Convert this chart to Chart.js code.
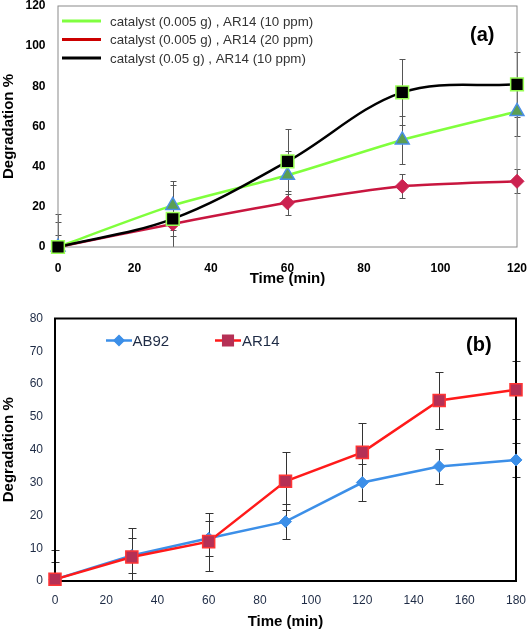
<!DOCTYPE html>
<html><head><meta charset="utf-8">
<script src="https://cdn.jsdelivr.net/npm/chart.js@4.4.1/dist/chart.umd.min.js"></script>
<style>
html,body{margin:0;padding:0;background:#fff;}
canvas{position:absolute;left:0;}
</style>
</head><body>
<canvas id="ca" width="529" height="300" style="top:0"></canvas>
<canvas id="cb" width="529" height="329" style="top:300px"></canvas>
<script>
// ---------- Panel (a) data ----------
const timeA = [0, 30, 60, 90, 120];
const greenA = [0, 20.7, 35.7, 53.3, 67.5];
const redA = [0, 11.5, 22, 30.2, 32.7];
const blackA = [0, 14, 42.6, 77, 81];
const greenErrA = [12.3, 12, 12, 12, 12];
const redErrA = [6, 6, 6, 6, 6];
const blackErrA = [16.5, 17, 16, 16.4, 16.2];
const labelsA = ['catalyst (0.005 g) , AR14 (10 ppm)', 'catalyst (0.005 g) , AR14 (20 ppm)', 'catalyst (0.05 g) , AR14 (10 ppm)'];
const xTicksA = [0, 120, 20];
const yTicksA = [0, 120, 20];

// ---------- Panel (b) data ----------
const timeB = [0, 30, 60, 90, 120, 150, 180];
const ab92 = [0.5, 7.8, 13, 18.1, 30, 34.9, 36.9];
const ar14 = [0.5, 7.3, 12, 30.4, 39.2, 55, 58.3];
const ab92Err = [5.3, 5.3, 5.3, 5.3, 5.6, 5.3, 5.3];
const ar14Err = [8.8, 8.8, 8.8, 8.8, 8.9, 8.8, 8.8];
const labelsB = ['AB92', 'AR14'];
const xTicksB = [0, 180, 20];
const yTicksB = [0, 80, 10];

const FF = '"Liberation Sans", Arial, sans-serif';
const pts = (xs, ys) => xs.map((x, i) => ({x, y: ys[i]}));

function drawMarker(ctx, style, x, y, r, fill, stroke, bw) {
  ctx.save();
  ctx.fillStyle = fill; ctx.strokeStyle = stroke; ctx.lineWidth = bw;
  ctx.beginPath();
  if (style === 'rectRot') {
    ctx.moveTo(x, y - r); ctx.lineTo(x + r, y); ctx.lineTo(x, y + r); ctx.lineTo(x - r, y); ctx.closePath();
  } else if (style === 'rect') {
    const s = r * Math.SQRT1_2; ctx.rect(x - s, y - s, 2 * s, 2 * s);
  }
  ctx.fill(); ctx.stroke();
  ctx.restore();
}

const decor = {
  id: 'decor',
  beforeDatasetsDraw(chart, args, o) {
    const {ctx, chartArea: a, scales: {x, y}} = chart;
    ctx.save();
    ctx.beginPath(); ctx.rect(0, a.top - 1, chart.width, a.bottom - a.top + 1); ctx.clip();
    ctx.strokeStyle = o.errColor; ctx.lineWidth = 1;
    chart.data.datasets.forEach(ds => {
      if (!ds.errors) return;
      ds.data.forEach((p, i) => {
        const e = ds.errors[i];
        const px = Math.round(x.getPixelForValue(p.x)) + 0.5;
        const hi = Math.round(y.getPixelForValue(p.y + e)) + 0.5;
        const lo = Math.round(y.getPixelForValue(p.y - e)) + 0.5;
        ctx.beginPath();
        ctx.moveTo(px, hi); ctx.lineTo(px, lo);
        ctx.moveTo(px - o.cap, hi); ctx.lineTo(px + o.cap, hi);
        ctx.moveTo(px - o.cap, lo); ctx.lineTo(px + o.cap, lo);
        ctx.stroke();
      });
    });
    ctx.restore();
    ctx.save();
    ctx.strokeStyle = o.frameColor; ctx.lineWidth = o.frameWidth;
    ctx.strokeRect(a.left, a.top, a.right - a.left, a.bottom - a.top);
    ctx.restore();
  },
  afterDraw(chart, args, o) {
    const ctx = chart.ctx;
    ctx.save();
    // panel label
    ctx.font = 'bold 20px ' + FF; ctx.fillStyle = '#000';
    ctx.textBaseline = 'middle'; ctx.textAlign = 'left';
    ctx.fillText(o.panel.text, o.panel.x, o.panel.y);
    // legend
    ctx.font = o.legend.font; ctx.fillStyle = o.legend.color;
    o.legend.items.forEach(it => {
      ctx.strokeStyle = it.line; ctx.lineWidth = it.lw;
      ctx.beginPath(); ctx.moveTo(it.x0, it.y); ctx.lineTo(it.x1, it.y); ctx.stroke();
      if (it.marker) drawMarker(ctx, it.marker, (it.x0 + it.x1) / 2, it.y, it.r, it.fill, it.stroke, 1.5);
      ctx.fillStyle = o.legend.color;
      ctx.fillText(it.text, it.tx, it.y + 1);
    });
    ctx.restore();
  }
};

function axisCfg(t, opts) {
  return Object.assign({
    type: 'linear', min: t[0], max: t[1],
    grid: {display: false, drawTicks: false},
    border: {display: false},
  }, opts);
}

// ---------- Chart (a) ----------
new Chart(document.getElementById('ca'), {
  type: 'line',
  data: {
    datasets: [
      {label: labelsA[0], data: pts(timeA, greenA), errors: greenErrA, borderColor: '#80ff3c', borderWidth: 2.5,
       tension: 0.2, pointStyle: 'triangle', pointRadius: 8, pointBackgroundColor: '#5b9e52',
       pointBorderColor: '#4a8fe6', pointBorderWidth: 1.5, clip: false, order: 3},
      {label: labelsA[1], data: pts(timeA, redA), errors: redErrA, borderColor: '#c8163f', borderWidth: 2.5,
       tension: 0.2, pointStyle: 'rectRot', pointRadius: 7, pointBackgroundColor: '#cc2250',
       pointBorderColor: '#cc2250', pointBorderWidth: 1, clip: false, order: 2},
      {label: labelsA[2], data: pts(timeA, blackA), errors: blackErrA, borderColor: '#000', borderWidth: 2.5,
       tension: 0.35, pointStyle: 'rect', pointRadius: 9, pointBackgroundColor: '#000',
       pointBorderColor: '#99ff55', pointBorderWidth: 1.5, clip: false, order: 1}
    ]
  },
  options: {
    responsive: false, animation: false, devicePixelRatio: 1,
    layout: {autoPadding: false, padding: {left: 0, top: 6, right: 12, bottom: 0}},
    plugins: {
      legend: {display: false}, tooltip: {enabled: false},
      decor: {
        errColor: '#555', cap: 3, frameColor: '#8a8a8a', frameWidth: 1,
        panel: {text: '(a)', x: 470, y: 35},
        legend: {font: '13.3px ' + FF, color: '#333', items: [
          {text: labelsA[0], line: '#80ff40', lw: 3, x0: 62, x1: 101, y: 21, tx: 110},
          {text: labelsA[1], line: '#cc0000', lw: 3, x0: 62, x1: 101, y: 39.5, tx: 110},
          {text: labelsA[2], line: '#000000', lw: 3, x0: 62, x1: 101, y: 58, tx: 110}
        ]}
      }
    },
    scales: {
      x: axisCfg(xTicksA, {
        ticks: {stepSize: xTicksA[2], color: '#000', padding: 14, maxRotation: 0, font: {family: FF, size: 12, weight: 'bold'}},
        title: {display: true, text: 'Time (min)', color: '#000', font: {family: FF, size: 15, weight: 'bold'}, padding: {top: 0, bottom: 12.5}},
        afterFit(s) { s.height = 53; s.paddingLeft = 0; s.paddingRight = 0; }
      }),
      y: axisCfg(yTicksA, {
        ticks: {stepSize: yTicksA[2], color: '#000', padding: 12.5, font: {family: FF, size: 12, weight: 'bold', lineHeight: 1}},
        title: {display: true, text: 'Degradation %', color: '#000', font: {family: FF, size: 15, weight: 'bold'}, padding: {top: 0, bottom: 0}},
        afterFit(s) { s.width = 58; s.paddingTop = 0; s.paddingBottom = 0; }
      })
    }
  },
  plugins: [decor]
});

// ---------- Chart (b) ----------
new Chart(document.getElementById('cb'), {
  type: 'line',
  data: {
    datasets: [
      {label: labelsB[0], data: pts(timeB, ab92), errors: ab92Err, borderColor: '#3c8fe8', borderWidth: 2.5,
       tension: 0, pointStyle: 'rectRot', pointRadius: 6, pointBackgroundColor: '#3c8fe8',
       pointBorderColor: '#3c8fe8', pointBorderWidth: 1, clip: false, order: 2},
      {label: labelsB[1], data: pts(timeB, ar14), errors: ar14Err, borderColor: '#ff1a1a', borderWidth: 2.5,
       tension: 0, pointStyle: 'rect', pointRadius: 8.5, pointBackgroundColor: '#b53055',
       pointBorderColor: '#ff3535', pointBorderWidth: 1.5, clip: false, order: 1}
    ]
  },
  options: {
    responsive: false, animation: false, devicePixelRatio: 1,
    layout: {autoPadding: false, padding: {left: 0, top: 18.5, right: 13, bottom: 0}},
    plugins: {
      legend: {display: false}, tooltip: {enabled: false},
      decor: {
        errColor: '#333', cap: 4, frameColor: '#000', frameWidth: 2,
        panel: {text: '(b)', x: 466, y: 45.5},
        legend: {font: '15px ' + FF, color: '#1e2b45', items: [
          {text: labelsB[0], line: '#3c8fe8', lw: 2.5, x0: 106, x1: 132, y: 40.5, tx: 132.5,
           marker: 'rectRot', r: 5, fill: '#3c8fe8', stroke: '#3c8fe8'},
          {text: labelsB[1], line: '#ff1a1a', lw: 2.5, x0: 215, x1: 241, y: 40.5, tx: 242,
           marker: 'rect', r: 7.5, fill: '#b53055', stroke: '#b53055'}
        ]}
      }
    },
    scales: {
      x: axisCfg(xTicksB, {
        ticks: {stepSize: xTicksB[2], color: '#1e2b45', padding: 12, maxRotation: 0, font: {family: FF, size: 12}},
        title: {display: true, text: 'Time (min)', color: '#000', font: {family: FF, size: 15, weight: 'bold'}, padding: {top: 0, bottom: -2}},
        afterFit(s) { s.height = 48; s.paddingLeft = 0; s.paddingRight = 0; }
      }),
      y: axisCfg(yTicksB, {
        ticks: {stepSize: yTicksB[2], color: '#1e2b45', padding: 12, font: {family: FF, size: 12, lineHeight: 1}},
        title: {display: true, text: 'Degradation %', color: '#000', font: {family: FF, size: 15, weight: 'bold'}, padding: {top: 0, bottom: 0}},
        afterFit(s) { s.width = 55; s.paddingTop = 0; s.paddingBottom = 0; }
      })
    }
  },
  plugins: [decor]
});
</script>
</body></html>
